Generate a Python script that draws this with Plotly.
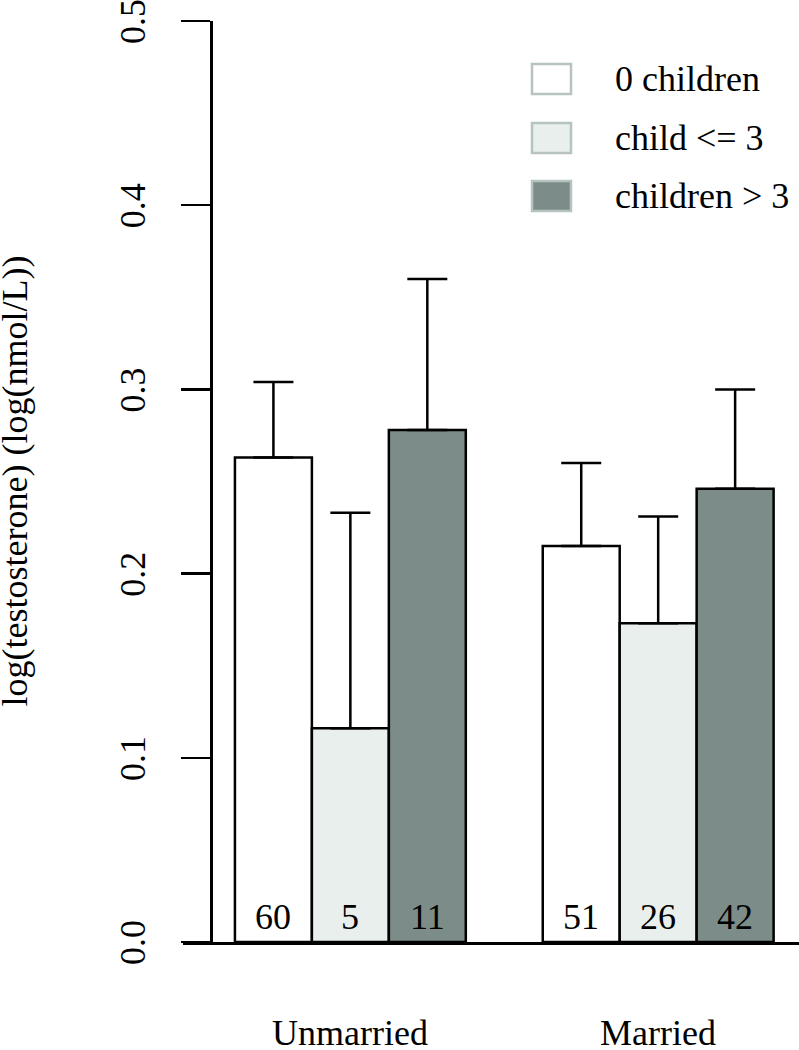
import plotly.graph_objects as go

# ---- data ----
groups = ["Unmarried", "Married"]
series_names = ["0 children", "child <= 3", "children > 3"]
means = {
    "0 children":   [0.263, 0.215],
    "child <= 3":   [0.116, 0.173],
    "children > 3": [0.278, 0.246],
}
upper = {
    "0 children":   [0.304, 0.260],
    "child <= 3":   [0.233, 0.231],
    "children > 3": [0.360, 0.300],
}
counts = {
    "0 children":   [60, 51],
    "child <= 3":   [5, 26],
    "children > 3": [11, 42],
}
y_ticks = [0.0, 0.1, 0.2, 0.3, 0.4, 0.5]

# ---- style ----
fills = {"0 children": "#FFFFFF", "child <= 3": "#E9EFED", "children > 3": "#7B8C89"}
legend_border = "#B7C3C1"
FONT = "Liberation Serif"
FS = 36
LW = 2.5

W, H = 799, 1050
# plot area in screen pixels: x 183..799, y 21..942
L, R, T, B = 183, 0, 21, H - 942
pw, ph = W - L - R, H - T - B

def px_to_paper_x(px):
    return (px - L) / pw

def px_to_paper_y(py):
    return (H - B - py) / ph

fig = go.Figure()

annotations = []
for si, s in enumerate(series_names):
    xs = [1.5 + si + gi * 4 for gi in range(len(groups))]
    m = means[s]
    e = [u - v for u, v in zip(upper[s], m)]
    fig.add_trace(go.Bar(
        x=xs, y=m, width=1,
        marker=dict(color=fills[s], line=dict(color="black", width=LW)),
        error_y=dict(type="data", symmetric=False, array=e,
                     arrayminus=[0] * len(e), color="black",
                     thickness=LW, width=20),
        showlegend=False, name=s, hoverinfo="skip",
    ))
    for x, c in zip(xs, counts[s]):
        annotations.append(dict(x=x, y=0, xref="x", yref="y", text=str(c),
                                showarrow=False, yanchor="middle", yshift=25,
                                font=dict(family=FONT, size=FS, color="black")))

# group labels
for gi, g in enumerate(groups):
    annotations.append(dict(x=2.5 + gi * 4, y=0, xref="x", yref="y", text=g,
                            showarrow=False, yanchor="middle", yshift=-91,
                            font=dict(family=FONT, size=FS, color="black")))

# y title
annotations.append(dict(x=px_to_paper_x(14), y=0.5, xref="paper", yref="paper",
                        text="log(testosterone) (log(nmol/L))", textangle=-90,
                        showarrow=False, xanchor="center", yanchor="middle",
                        font=dict(family=FONT, size=FS, color="black")))

# manual legend
shapes = []
box_tops = [64, 123, 181]
text_centers = [79, 138, 196]
for s, bt, tc in zip(series_names, box_tops, text_centers):
    shapes.append(dict(type="rect", xref="paper", yref="paper",
                       x0=px_to_paper_x(532), x1=px_to_paper_x(571),
                       y0=px_to_paper_y(bt + 30), y1=px_to_paper_y(bt),
                       fillcolor=fills[s], line=dict(color=legend_border, width=LW)))
    annotations.append(dict(x=px_to_paper_x(613), y=px_to_paper_y(tc),
                            xref="paper", yref="paper", text=s, showarrow=False,
                            xanchor="left", yanchor="middle",
                            font=dict(family=FONT, size=FS, color="black")))

fig.update_layout(
    width=W, height=H,
    margin=dict(l=L, r=R, t=T, b=B, autoexpand=False),
    plot_bgcolor="white", paper_bgcolor="white",
    font=dict(family=FONT, size=FS, color="black"),
    barmode="overlay",
    annotations=annotations,
    shapes=shapes,
    xaxis=dict(range=[0.325, 8.33], showgrid=False, zeroline=False,
               showline=True, linecolor="black", linewidth=LW,
               showticklabels=False, ticks="", automargin=False),
    yaxis=dict(range=[0, 0.5], anchor="free", position=px_to_paper_x(211),
               showgrid=False, zeroline=False, showline=True,
               linecolor="black", linewidth=LW, ticks="outside", ticklen=29,
               tickwidth=LW, tickcolor="black", tickvals=y_ticks,
               tickformat=".1f", tickangle=-90, ticklabelstandoff=22,
               ticklabelshift=6,
               ticklabeloverflow="allow", automargin=False,
               tickfont=dict(family=FONT, size=FS, color="black")),
)

fig.write_html("out.html",
               config={"displayModeBar": False, "staticPlot": True},
               post_script="document.body.style.margin='0';document.body.style.overflow='hidden';")
